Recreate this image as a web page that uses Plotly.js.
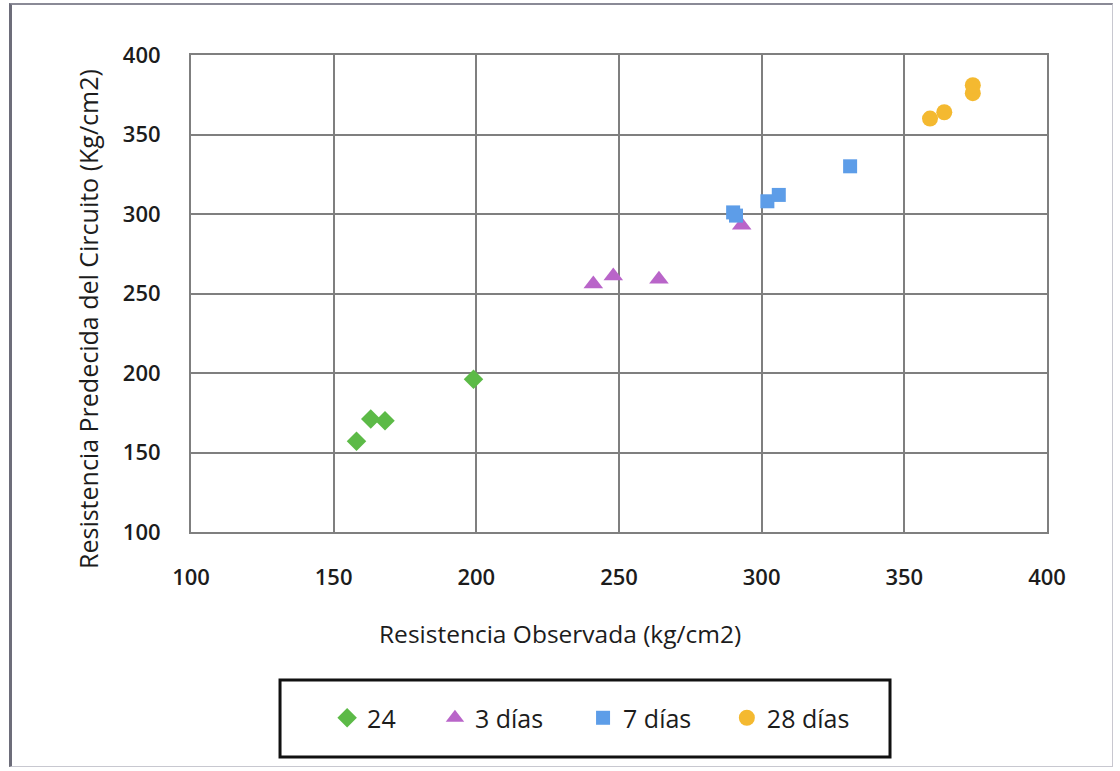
<!DOCTYPE html>
<html>
<head>
<meta charset="utf-8">
<script src="https://cdn.plot.ly/plotly-3.0.1.min.js"></script>
<style>
html,body{margin:0;padding:0;background:#fff;}
#wrap{position:relative;width:1120px;height:771px;}
#frame{position:absolute;left:9px;top:3px;width:1104px;height:764px;border-left:3px solid #6d6d7a;border-top:2px solid #8a8a96;border-right:1px solid #c8c8d0;border-bottom:1px solid #c8c8d0;box-sizing:border-box;pointer-events:none;}
#chart{position:absolute;left:0;top:0;width:1120px;height:771px;}
</style>
</head>
<body>
<div id="wrap"><div id="chart"></div><div id="frame"></div></div>
<script>
// Data
const seriesNames = ["24", "3 días", "7 días", "28 días"];
const x24 = [158, 163, 168, 199];
const y24 = [157, 171, 170, 196];
const x3 = [241, 248, 264, 293];
const y3 = [256, 261, 259, 293];
const x7 = [290, 291, 302, 306, 331];
const y7 = [301, 299, 308, 312, 330];
const x28 = [359, 364, 374, 374];
const y28 = [360, 364, 376, 381];
const xTicks = [100, 150, 200, 250, 300, 350, 400];
const yTicks = [100, 150, 200, 250, 300, 350, 400];
const xTitle = "Resistencia Observada (kg/cm2)";
const yTitle = "Resistencia Predecida del Circuito (Kg/cm2)";

const font = "Open Sans, Liberation Sans, Arial, sans-serif";
const txt = "#1c1c1c";
const traces = [
  {x: x24, y: y24, name: seriesNames[0], type: "scatter", mode: "markers", legend: "legend",
   marker: {symbol: "diamond", size: 15, color: "#5cba47"}},
  {x: x3, y: y3, name: seriesNames[1], type: "scatter", mode: "markers", legend: "legend2",
   marker: {symbol: "triangle-up", size: 17, color: "#b965c9"}},
  {x: x7, y: y7, name: seriesNames[2], type: "scatter", mode: "markers", legend: "legend3",
   marker: {symbol: "square", size: 14, color: "#5d9de8"}},
  {x: x28, y: y28, name: seriesNames[3], type: "scatter", mode: "markers", legend: "legend4",
   marker: {symbol: "circle", size: 16, color: "#f4b930"}}
];

const axisCommon = {
  showline: true, mirror: true, linecolor: "#7f7f7f", linewidth: 2,
  gridcolor: "#7f7f7f", gridwidth: 2, zeroline: false,
  ticks: "", tickfont: {family: font, size: 22, color: txt, weight: 600}
};

function leg(x) {
  return {x: x, xanchor: "left", y: -0.39, yanchor: "middle", orientation: "h",
          bgcolor: "rgba(0,0,0,0)", borderwidth: 0,
          font: {family: font, size: 25, color: txt, weight: 500}};
}

const layout = {
  width: 1120, height: 771,
  margin: {l: 191, r: 73, t: 55, b: 239},
  paper_bgcolor: "rgba(0,0,0,0)", plot_bgcolor: "#fff",
  showlegend: true,
  xaxis: Object.assign({}, axisCommon, {
    range: [100, 400], tickvals: xTicks, ticklabelstandoff: 25
  }),
  yaxis: Object.assign({}, axisCommon, {
    range: [100, 400], tickvals: yTicks, ticklabelstandoff: 24
  }),
  legend: leg(0.159),
  legend2: leg(0.285),
  legend3: leg(0.458),
  legend4: leg(0.626),
  annotations: [
    {text: xTitle, xref: "paper", yref: "paper", x: (560 - 191) / 856, y: (532 - 633) / 477,
     xanchor: "center", yanchor: "middle", showarrow: false,
     font: {family: font, size: 24.5, color: txt, weight: 500}},
    {text: yTitle, xref: "paper", yref: "paper", x: (88 - 191) / 856, y: (532 - 319) / 477,
     xanchor: "center", yanchor: "middle", showarrow: false, textangle: -90,
     font: {family: font, size: 25, color: txt, weight: 500}}
  ],
  shapes: [{type: "rect", xref: "paper", yref: "paper",
            x0: 0.104, x1: 0.8166, y0: -0.3103, y1: -0.4717,
            line: {color: "#111", width: 3}, fillcolor: "rgba(0,0,0,0)"}]
};

Plotly.newPlot("chart", traces, layout, {displayModeBar: false, staticPlot: true});
</script>
</body>
</html>
